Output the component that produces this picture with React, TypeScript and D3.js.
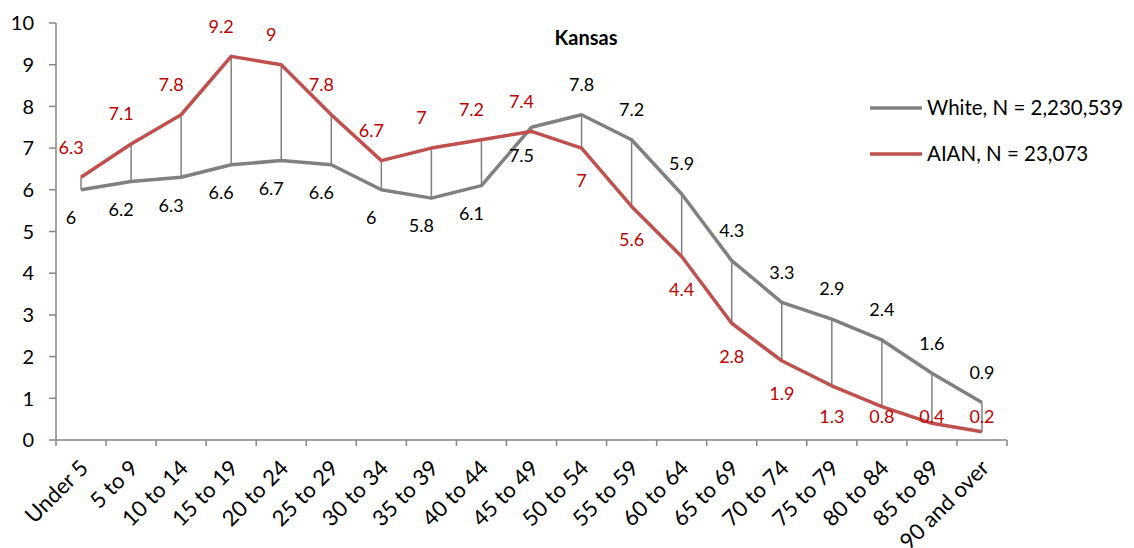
import React from "react";
import * as d3 from "d3";

// age groups on the x axis
const categories = [
  "Under 5", "5 to 9", "10 to 14", "15 to 19", "20 to 24", "25 to 29",
  "30 to 34", "35 to 39", "40 to 44", "45 to 49", "50 to 54", "55 to 59",
  "60 to 64", "65 to 69", "70 to 74", "75 to 79", "80 to 84", "85 to 89",
  "90 and over",
];

// percent of population in each age group
const whiteValues = [6, 6.2, 6.3, 6.6, 6.7, 6.6, 6, 5.8, 6.1, 7.5, 7.8, 7.2, 5.9, 4.3, 3.3, 2.9, 2.4, 1.6, 0.9];
const aianValues = [6.3, 7.1, 7.8, 9.2, 9, 7.8, 6.7, 7, 7.2, 7.4, 7, 5.6, 4.4, 2.8, 1.9, 1.3, 0.8, 0.4, 0.2];

const yTicks = [0, 1, 2, 3, 4, 5, 6, 7, 8, 9, 10];

const seriesNames = ["White, N = 2,230,539", "AIAN, N = 23,073"];

const FONT = "Lato, 'Open Sans', sans-serif";
const GREY = "#808080";
const RED = "#C0504D";

export default function App() {
  const width = 1134;
  const height = 548;
  const left = 56;
  const right = 1007;
  const top = 23;
  const bottom = 440;

  const x = d3.scaleBand<string>().domain(categories).range([left, right]);
  const y = d3.scaleLinear().domain([0, 10]).range([bottom, top]);
  const cx = (i: number) => (x(categories[i]) ?? 0) + x.bandwidth() / 2;

  const line = d3
    .line<number>()
    .x((_, i) => cx(i))
    .y((d) => y(d));

  // Left part: white labels below, AIAN above; right part swapped
  const flip = 10;

  return (
    <svg width={width} height={height} style={{ display: "block", position: "absolute", left: 0, top: 0 }}>
      <rect width={width} height={height} fill="white" />

      {/* title */}
      <text x={586} y={45} textAnchor="middle" fontFamily={FONT} fontWeight="bold" fontSize={20} fill="#000">
        Kansas
      </text>

      {/* y axis */}
      <line x1={left} x2={left} y1={top} y2={bottom} stroke="#868686" strokeWidth={1.5} />
      {yTicks.map((t) => (
        <g key={t}>
          <line x1={left - 7} x2={left} y1={y(t)} y2={y(t)} stroke="#868686" strokeWidth={1.5} />
          <text x={34} y={y(t)} dy="0.36em" textAnchor="end" fontFamily={FONT} fontSize={20} fill="#000">
            {t}
          </text>
        </g>
      ))}

      {/* x axis */}
      <line x1={left} x2={right} y1={bottom} y2={bottom} stroke="#868686" strokeWidth={1.5} />
      {categories.map((c) => (
        <line key={c} x1={x(c)} x2={x(c)} y1={bottom} y2={bottom + 6} stroke="#868686" strokeWidth={1.5} />
      ))}
      <line x1={right} x2={right} y1={bottom} y2={bottom + 6} stroke="#868686" strokeWidth={1.5} />
      {categories.map((c, i) => (
        <text
          key={c}
          transform={`translate(${cx(i) + 3},${bottom + 24}) rotate(-45)`}
          textAnchor="end"
          dy="0.35em"
          fontFamily={FONT}
          fontSize={22}
          fill="#000"
        >
          {c}
        </text>
      ))}

      {/* high-low lines */}
      {categories.map((c, i) => (
        <line
          key={c}
          x1={cx(i)}
          x2={cx(i)}
          y1={y(whiteValues[i])}
          y2={y(aianValues[i])}
          stroke={GREY}
          strokeWidth={1.5}
        />
      ))}

      {/* series lines */}
      <path d={line(whiteValues) || ""} fill="none" stroke={GREY} strokeWidth={3.5} strokeLinejoin="round" />
      <path d={line(aianValues) || ""} fill="none" stroke={RED} strokeWidth={3.5} strokeLinejoin="round" />

      {/* data labels */}
      {whiteValues.map((v, i) => (
        <text
          key={"w" + i}
          x={cx(i) + (i < flip ? -10 : 0)}
          y={y(v) + (i < flip ? 28 : -30)}
          dy="0.35em"
          textAnchor="middle"
          fontFamily={FONT}
          fontSize={18}
          fill="#000"
        >
          {v}
        </text>
      ))}
      {aianValues.map((v, i) => (
        <text
          key={"a" + i}
          x={cx(i) + (i < flip ? -10 : 0)}
          y={i < flip ? y(v) - 30 : Math.min(y(v) + 33, bottom - 23)}
          dy="0.35em"
          textAnchor="middle"
          fontFamily={FONT}
          fontSize={18}
          fill="#C00000"
        >
          {v}
        </text>
      ))}

      {/* legend */}
      {seriesNames.map((name, i) => (
        <g key={name} transform={`translate(870,${108 + i * 46})`}>
          <line x1={0} x2={52} y1={0} y2={0} stroke={i === 0 ? GREY : RED} strokeWidth={3.5} />
          <text x={57} y={0} dy="0.36em" fontFamily={FONT} fontSize={20.5} fill="#000">
            {name}
          </text>
        </g>
      ))}
    </svg>
  );
}
